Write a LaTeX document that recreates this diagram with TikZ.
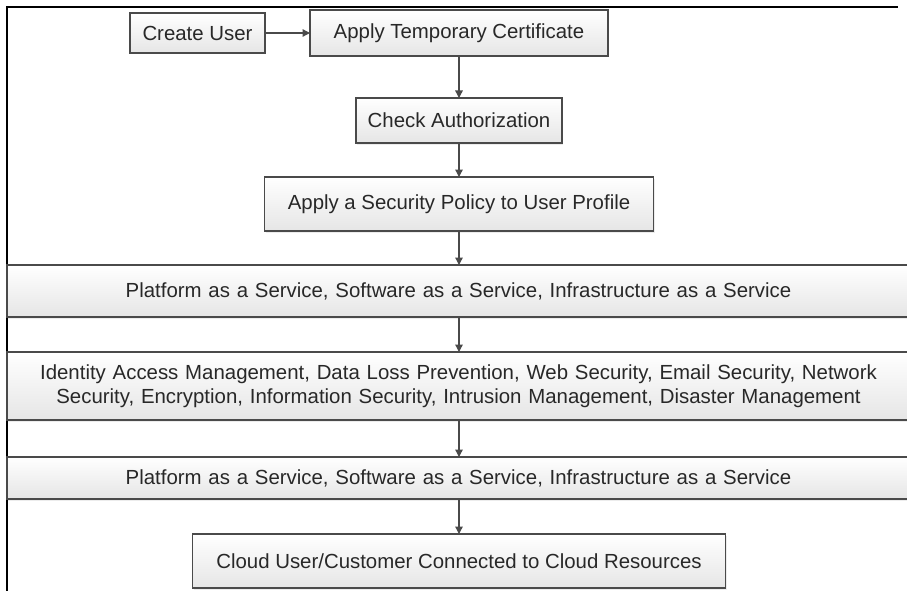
\documentclass[tikz,border=0pt]{standalone}
\usepackage{fontspec}
\setmainfont{Liberation Sans}
\usetikzlibrary{arrows.meta,shadows}
\definecolor{edge}{HTML}{4A4A4A}
\definecolor{txt}{HTML}{282828}
\tikzset{
  x=1pt,y=-1pt,
  box/.style={draw=edge,line width=1.3pt,top color=white,bottom color=gray!20,
    drop shadow={opacity=0.15,shadow xshift=1pt,shadow yshift=-1.5pt},
    inner sep=0pt,outer sep=0pt,anchor=center,text=txt,
    font=\fontsize{20.4}{24.5}\selectfont},
  band/.style={box,minimum width=903pt,text width=880pt,align=center},
  flow/.style={draw=edge,line width=1.3pt,-{Triangle[length=7.5pt,width=7.5pt]}},
}
\begin{document}
\begin{tikzpicture}
\useasboundingbox (0,0) rectangle (907,591);
\clip (0,0) rectangle (907,591);
\fill[white] (0,0) rectangle (907,591);
\draw[black,line width=2pt] (7,591) -- (7,7) -- (898,7);
\node[box,minimum width=135pt,minimum height=40pt] (cu) at (197.5,33) {Create User};
\node[box,minimum width=298pt,minimum height=46pt] (atc) at (459,33) {Apply Temporary Certificate};
\node[box,minimum width=206pt,minimum height=45pt] (ca) at (459,120.5) {Check Authorization};
\node[box,minimum width=389pt,minimum height=54pt] (asp) at (459,204) {Apply a Security Policy to User Profile};
\node[band,minimum height=52pt] (b1) at (458.5,291) {Platform as a Service, Software as a Service, Infrastructure as a Service};
\node[band,minimum height=68pt] (b2) at (458.5,386) {Identity Access Management, Data Loss Prevention, Web Security, Email Security, Network\\Security, Encryption, Information Security, Intrusion Management, Disaster Management};
\node[band,minimum height=42pt] (b3) at (458.5,478) {Platform as a Service, Software as a Service, Infrastructure as a Service};
\node[box,minimum width=533pt,minimum height=54pt] (cc) at (459,561) {Cloud User/Customer Connected to Cloud Resources};
\draw[flow] (cu) -- (atc);
\draw[flow] (atc) -- (ca);
\draw[flow] (ca) -- (asp);
\draw[flow] (asp.south) -- (asp.south |- b1.north);
\draw[flow] (asp.south |- b1.south) -- (asp.south |- b2.north);
\draw[flow] (asp.south |- b2.south) -- (asp.south |- b3.north);
\draw[flow] (cc.north |- b3.south) -- (cc.north);
\end{tikzpicture}
\end{document}
